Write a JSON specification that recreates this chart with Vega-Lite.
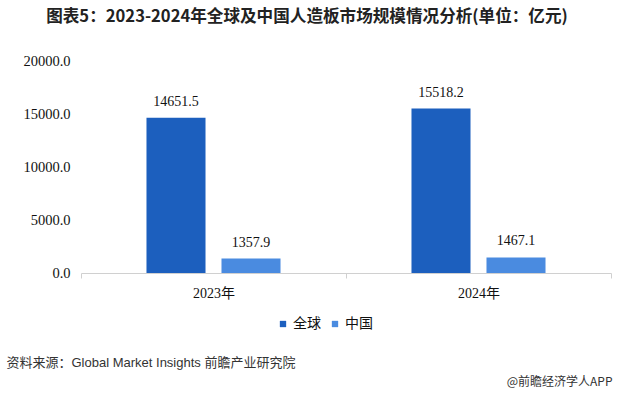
{
  "$schema": "https://vega.github.io/schema/vega-lite/v6.json",
  "autosize": "none",
  "width": 530,
  "height": 212,
  "padding": {"left": 81, "top": 61, "right": 9, "bottom": 123},
  "background": "white",
  "title": {
    "text": "图表5：2023-2024年全球及中国人造板市场规模情况分析(单位：亿元)",
    "anchor": "middle",
    "frame": "group",
    "dx": -39,
    "offset": 27,
    "font": "Noto Sans CJK SC",
    "fontSize": 16.6,
    "fontWeight": "bold",
    "color": "#222222"
  },
  "data": {
    "values": [
      {"year": "2023年", "region": "全球", "value": 14651.5},
      {"year": "2023年", "region": "中国", "value": 1357.9},
      {"year": "2024年", "region": "全球", "value": 15518.2},
      {"year": "2024年", "region": "中国", "value": 1467.1}
    ]
  },
  "config": {
    "view": {"stroke": null}
  },
  "encoding": {
    "x": {
      "field": "year",
      "type": "nominal",
      "scale": {"paddingInner": 0, "paddingOuter": 0},
      "axis": {
        "title": "资料来源：Global Market Insights 前瞻产业研究院",
        "titleX": -75,
        "titleY": 89,
        "titleAlign": "left",
        "titleAnchor": null,
        "titleBaseline": "middle",
        "titleFont": "Liberation Sans, Noto Sans CJK SC",
        "titleFontSize": 13,
        "titleFontWeight": "normal",
        "titleColor": "#333333",
        "labelAngle": 0,
        "labelFont": "Liberation Serif, Noto Sans CJK SC",
        "labelFontSize": 14,
        "labelColor": "#111111",
        "labelPadding": 8,
        "domainColor": "#d0d0d0",
        "tickColor": "#d0d0d0",
        "tickSize": 5,
        "tickBand": "extent",
        "grid": false
      }
    },
    "xOffset": {
      "field": "region",
      "type": "nominal",
      "sort": ["全球", "中国"],
      "scale": {"paddingInner": 0.213, "paddingOuter": 0.873}
    },
    "y": {
      "field": "value",
      "type": "quantitative",
      "scale": {"domain": [0, 20000], "nice": false},
      "axis": {
        "values": [0, 5000, 10000, 15000, 20000],
        "format": ".1f",
        "title": "@前瞻经济学人APP",
        "titleAngle": 0,
        "titleX": 531,
        "titleY": 320,
        "titleAlign": "right",
        "titleAnchor": null,
        "titleBaseline": "middle",
        "titleFont": "Noto Sans CJK SC",
        "titleFontSize": 12,
        "titleFontWeight": "normal",
        "titleColor": "#333333",
        "domain": false,
        "ticks": false,
        "grid": false,
        "labelFont": "Liberation Serif",
        "labelFontSize": 14.5,
        "labelColor": "#111111",
        "labelPadding": 11
      }
    },
    "color": {
      "field": "region",
      "type": "nominal",
      "scale": {"domain": ["全球", "中国"], "range": ["#1C5FBE", "#4A8BE0"]},
      "legend": {
        "title": null,
        "orient": "none",
        "direction": "horizontal",
        "legendX": 195,
        "legendY": 256,
        "symbolType": "square",
        "symbolSize": 40,
        "symbolStrokeWidth": 0,
        "labelFont": "Noto Sans CJK SC",
        "labelFontSize": 14,
        "labelColor": "#111111",
        "labelOffset": 3,
        "columnPadding": 7
      }
    }
  },
  "layer": [
    {"mark": {"type": "bar"}},
    {
      "mark": {
        "type": "text",
        "baseline": "bottom",
        "dy": -9,
        "font": "Liberation Serif",
        "fontSize": 14,
        "color": "#111111"
      },
      "encoding": {
        "text": {"field": "value", "type": "quantitative", "format": ".1f"},
        "color": {"value": "#111111"}
      }
    }
  ]
}
